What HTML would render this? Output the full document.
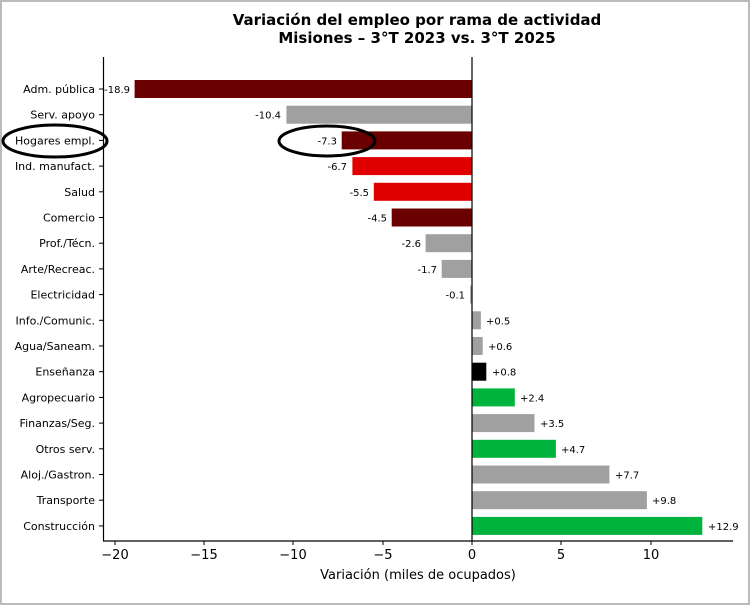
<!DOCTYPE html>
<html><head><meta charset="utf-8"><style>body{margin:0;background:#fff}svg{display:block}</style></head><body>
<svg width="750" height="605" xmlns="http://www.w3.org/2000/svg" font-family="'DejaVu Sans', sans-serif">
<rect x="1" y="1" width="748" height="603" fill="#fff" stroke="#bbb" stroke-width="2"/>
<text x="417" y="25" text-anchor="middle" font-size="15" font-weight="bold">Variación del empleo por rama de actividad</text>
<text x="417" y="43" text-anchor="middle" font-size="15" font-weight="bold">Misiones – 3°T 2023 vs. 3°T 2025</text>
<g>
<rect x="134.6" y="80" width="337.4" height="18" fill="#6b0000"/>
<rect x="286.4" y="105.7" width="185.6" height="18" fill="#a0a0a0"/>
<rect x="341.7" y="131.4" width="130.3" height="18" fill="#6b0000"/>
<rect x="352.4" y="157.1" width="119.6" height="18" fill="#e00000"/>
<rect x="373.8" y="182.8" width="98.2" height="18" fill="#e00000"/>
<rect x="391.7" y="208.5" width="80.3" height="18" fill="#6b0000"/>
<rect x="425.6" y="234.2" width="46.4" height="18" fill="#a0a0a0"/>
<rect x="441.7" y="259.9" width="30.3" height="18" fill="#a0a0a0"/>
<rect x="470.2" y="285.6" width="1.8" height="18" fill="#a0a0a0"/>
<rect x="472" y="311.3" width="8.9" height="18" fill="#a0a0a0"/>
<rect x="472" y="337" width="10.7" height="18" fill="#a0a0a0"/>
<rect x="472" y="362.7" width="14.3" height="18" fill="#000"/>
<rect x="472" y="388.4" width="42.8" height="18" fill="#00b33c"/>
<rect x="472" y="414.1" width="62.5" height="18" fill="#a0a0a0"/>
<rect x="472" y="439.8" width="83.9" height="18" fill="#00b33c"/>
<rect x="472" y="465.5" width="137.4" height="18" fill="#a0a0a0"/>
<rect x="472" y="491.2" width="174.9" height="18" fill="#a0a0a0"/>
<rect x="472" y="516.9" width="230.3" height="18" fill="#00b33c"/>
</g>
<g font-size="10">
<text x="130" y="93" text-anchor="end">-18.9</text>
<text x="281" y="118.7" text-anchor="end">-10.4</text>
<text x="337" y="144.4" text-anchor="end">-7.3</text>
<text x="347" y="170.1" text-anchor="end">-6.7</text>
<text x="369" y="195.8" text-anchor="end">-5.5</text>
<text x="387" y="221.5" text-anchor="end">-4.5</text>
<text x="421" y="247.2" text-anchor="end">-2.6</text>
<text x="437" y="272.9" text-anchor="end">-1.7</text>
<text x="465" y="298.6" text-anchor="end">-0.1</text>
<text x="486" y="324.3">+0.5</text>
<text x="488" y="350">+0.6</text>
<text x="492" y="375.7">+0.8</text>
<text x="520" y="401.4">+2.4</text>
<text x="540" y="427.1">+3.5</text>
<text x="561" y="452.8">+4.7</text>
<text x="615" y="478.5">+7.7</text>
<text x="652" y="504.2">+9.8</text>
<text x="708" y="529.9">+12.9</text>
</g>
<g font-size="11" text-anchor="end">
<text x="95" y="93">Adm. pública</text>
<text x="95" y="118.7">Serv. apoyo</text>
<text x="95" y="144.4">Hogares empl.</text>
<text x="95" y="170.1">Ind. manufact.</text>
<text x="95" y="195.8">Salud</text>
<text x="95" y="221.5">Comercio</text>
<text x="95" y="247.2">Prof./Técn.</text>
<text x="95" y="272.9">Arte/Recreac.</text>
<text x="95" y="298.6">Electricidad</text>
<text x="95" y="324.3">Info./Comunic.</text>
<text x="95" y="350">Agua/Saneam.</text>
<text x="95" y="375.7">Enseñanza</text>
<text x="95" y="401.4">Agropecuario</text>
<text x="95" y="427.1">Finanzas/Seg.</text>
<text x="95" y="452.8">Otros serv.</text>
<text x="95" y="478.5">Aloj./Gastron.</text>
<text x="95" y="504.2">Transporte</text>
<text x="95" y="529.9">Construcción</text>
</g>
<g stroke="#000">
<line x1="99" y1="89" x2="103" y2="89"/><line x1="99" y1="114.7" x2="103" y2="114.7"/><line x1="99" y1="140.4" x2="103" y2="140.4"/><line x1="99" y1="166.1" x2="103" y2="166.1"/><line x1="99" y1="191.8" x2="103" y2="191.8"/><line x1="99" y1="217.5" x2="103" y2="217.5"/><line x1="99" y1="243.2" x2="103" y2="243.2"/><line x1="99" y1="268.9" x2="103" y2="268.9"/><line x1="99" y1="294.6" x2="103" y2="294.6"/><line x1="99" y1="320.3" x2="103" y2="320.3"/><line x1="99" y1="346" x2="103" y2="346"/><line x1="99" y1="371.7" x2="103" y2="371.7"/><line x1="99" y1="397.4" x2="103" y2="397.4"/><line x1="99" y1="423.1" x2="103" y2="423.1"/><line x1="99" y1="448.8" x2="103" y2="448.8"/><line x1="99" y1="474.5" x2="103" y2="474.5"/><line x1="99" y1="500.2" x2="103" y2="500.2"/><line x1="99" y1="525.9" x2="103" y2="525.9"/>
</g>
<line x1="472" y1="57" x2="472" y2="541" stroke="#000" stroke-width="1.2"/>
<line x1="103.5" y1="57" x2="103.5" y2="541" stroke="#000" stroke-width="1.2"/>
<line x1="103" y1="541" x2="733" y2="541" stroke="#000" stroke-width="1.2"/>
<g font-size="13" text-anchor="middle">
<line x1="115" y1="541" x2="115" y2="545" stroke="#000"/><text x="115" y="559">−20</text>
<line x1="204" y1="541" x2="204" y2="545" stroke="#000"/><text x="204" y="559">−15</text>
<line x1="293" y1="541" x2="293" y2="545" stroke="#000"/><text x="293" y="559">−10</text>
<line x1="383" y1="541" x2="383" y2="545" stroke="#000"/><text x="383" y="559">−5</text>
<line x1="472" y1="541" x2="472" y2="545" stroke="#000"/><text x="472" y="559">0</text>
<line x1="561" y1="541" x2="561" y2="545" stroke="#000"/><text x="561" y="559">5</text>
<line x1="651" y1="541" x2="651" y2="545" stroke="#000"/><text x="651" y="559">10</text>
<text x="418" y="579">Variación (miles de ocupados)</text>
</g>
<ellipse cx="55" cy="141" rx="52" ry="16" fill="none" stroke="#000" stroke-width="3"/>
<ellipse cx="327" cy="141" rx="48" ry="15" fill="none" stroke="#000" stroke-width="3"/>
</svg>
</body></html>
